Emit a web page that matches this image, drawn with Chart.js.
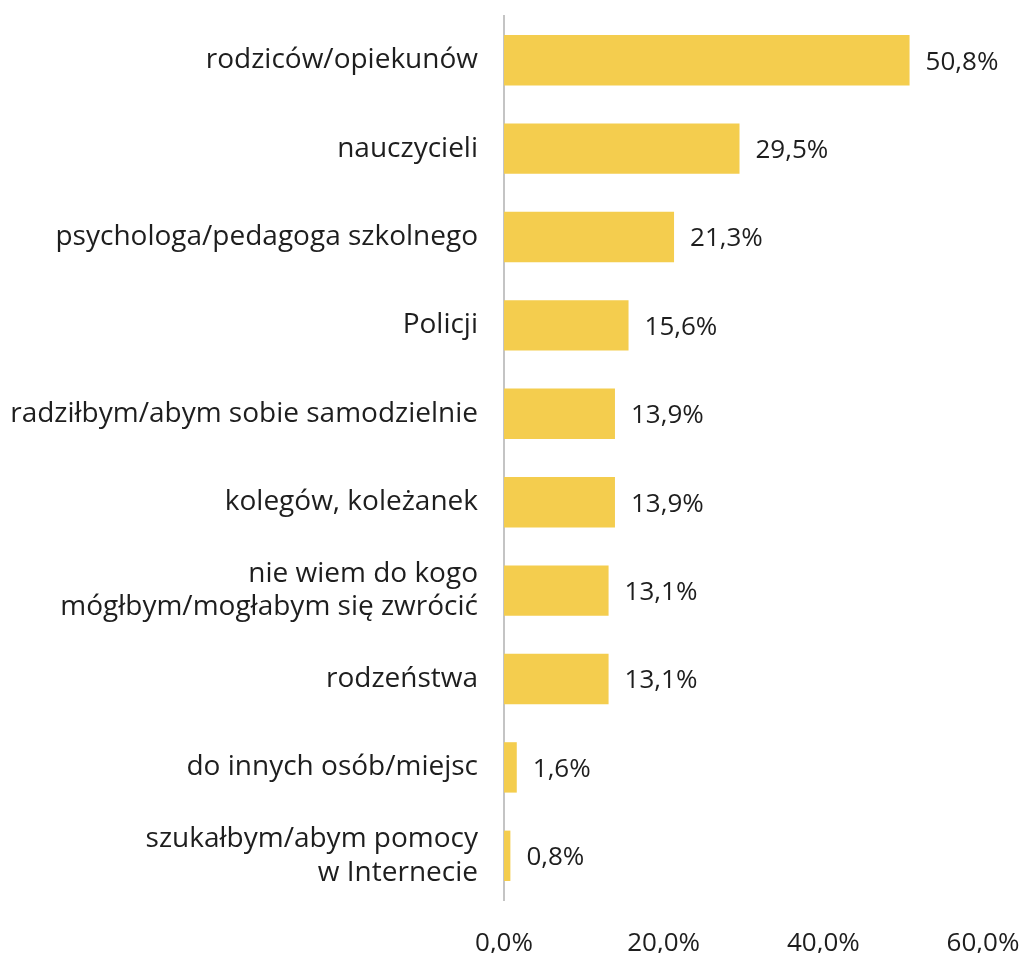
<!DOCTYPE html>
<html>
<head>
<meta charset="utf-8">
<script src="https://cdn.jsdelivr.net/npm/chart.js@4"></script>
<style>
html,body{margin:0;padding:0;background:#fff;}
#wrap{width:1024px;height:953px;position:relative;}
</style>
</head>
<body>
<div id="wrap"><canvas id="chart"></canvas></div>
<script>

// ================= DATA =================

const categories=[
"rodziców/opiekunów",
"nauczycieli",
"psychologa/pedagoga szkolnego",
"Policji",
"radziłbym/abym sobie samodzielnie",
"kolegów, koleżanek",
["nie wiem do kogo","mógłbym/mogłabym się zwrócić"],
"rodzeństwa",
"do innych osób/miejsc",
["szukałbym/abym pomocy","w Internecie"]
];

const values=[50.8,29.5,21.3,15.6,13.9,13.9,13.1,13.1,1.6,0.8];

const tickValues=[0,20,40,60];

// ================= HELPERS =================

function pct(v){
return v.toFixed(1).replace(".",",")+"%";
}

const FONT="'Open Sans', sans-serif";
const TEXT="#1e1e1e";

// value labels next to bars
const valueLabels={
id:"valueLabels",
afterDatasetsDraw(chart){
const ctx=chart.ctx;
const meta=chart.getDatasetMeta(0);
ctx.save();
ctx.font="26px "+FONT;
ctx.fillStyle=TEXT;
ctx.textAlign="left";
ctx.textBaseline="middle";
meta.data.forEach((bar,i)=>{
ctx.fillText(pct(values[i]),bar.x+16,bar.y+2);
});
ctx.restore();
}
};

// ================= CHART =================

new Chart(document.getElementById("chart"),{

type:"bar",

data:{
labels:categories,
datasets:[{
data:values,
backgroundColor:"#F4CD4E",
borderWidth:0,
categoryPercentage:1,
barPercentage:0.57
}]
},

options:{
indexAxis:"y",
responsive:true,
maintainAspectRatio:false,
animation:false,
layout:{
padding:0
},
plugins:{
legend:{display:false},
tooltip:{enabled:false}
},
scales:{
x:{
min:0,
max:60,
afterBuildTicks(scale){
scale.ticks=tickValues.map(v=>({value:v}));
},
grid:{display:false,drawTicks:false},
border:{display:false},
ticks:{
padding:28,
color:TEXT,
font:{family:FONT,size:26},
maxRotation:0,
callback:v=>pct(v)
},
afterFit(scale){
scale.height=53;
scale.paddingLeft=0;
scale.paddingRight=41;
}
},
y:{
grid:{display:true,drawOnChartArea:false,drawTicks:true,tickLength:26,color:"rgba(0,0,0,0)"},
border:{display:true,color:"#c4c4c4",width:2},
ticks:{
padding:0,
color:TEXT,
font:{family:FONT,size:28,lineHeight:1.2},
autoSkip:false
},
afterFit(scale){
scale.width=504;
scale.paddingTop=16;
scale.paddingBottom=0;
}
}
}
},

plugins:[valueLabels]

});

</script>
</body>
</html>
